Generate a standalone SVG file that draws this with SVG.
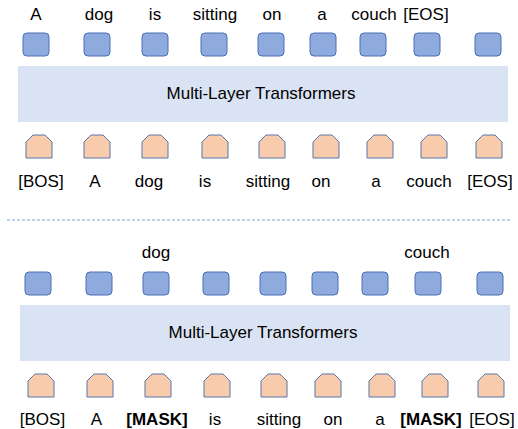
<svg xmlns="http://www.w3.org/2000/svg" xmlns:xlink="http://www.w3.org/1999/xlink" width="518" height="429" viewBox="0 0 518 429">
<style>
.lbl{font-family:"Liberation Sans",Arial,sans-serif;font-size:17px;fill:#000;text-anchor:middle}
.b{font-weight:bold}
.tf{font-family:"Liberation Sans",Arial,sans-serif;font-size:17px;fill:#000;text-anchor:middle}
.out{fill:#8FAADC;stroke:#4A70B5;stroke-width:1}
.inp{fill:#F8CBAD;stroke:#5877A8;stroke-width:1}
.box{fill:#DAE3F3}
.sep{stroke:#7F9FD3;stroke-width:1;stroke-dasharray:3 2;fill:none}
</style>
<defs>
<rect id="sq" x="0" y="0" width="26" height="23" rx="4" ry="4"/>
<path id="pent" d="M0,7 L7,0 L19,0 L26,7 L26,23 L0,23 Z"/>
</defs>
<rect width="518" height="429" fill="#fff"/>

<g id="top-section">
<g id="top-out-1"><text class="lbl" x="36" y="20">A</text><use href="#sq" class="out" x="23" y="33"/></g>
<g id="top-out-2"><text class="lbl" x="99" y="20">dog</text><use href="#sq" class="out" x="84" y="33"/></g>
<g id="top-out-3"><text class="lbl" x="155" y="20">is</text><use href="#sq" class="out" x="142" y="33"/></g>
<g id="top-out-4"><text class="lbl" x="215" y="20">sitting</text><use href="#sq" class="out" x="201" y="33"/></g>
<g id="top-out-5"><text class="lbl" x="272" y="20">on</text><use href="#sq" class="out" x="258" y="33"/></g>
<g id="top-out-6"><text class="lbl" x="322" y="20">a</text><use href="#sq" class="out" x="310" y="33"/></g>
<g id="top-out-7"><text class="lbl" x="374" y="20">couch</text><use href="#sq" class="out" x="360" y="33"/></g>
<g id="top-out-8"><text class="lbl" x="426" y="20">[EOS]</text><use href="#sq" class="out" x="414" y="33"/></g>
<g id="top-out-9"><use href="#sq" class="out" x="475" y="33"/></g>

<g id="top-transformer"><rect class="box" x="18" y="66" width="490" height="56"/><text class="tf" x="261" y="99">Multi-Layer Transformers</text></g>

<g id="top-in-1"><use href="#pent" class="inp" x="26" y="135"/><text class="lbl" x="41" y="187">[BOS]</text></g>
<g id="top-in-2"><use href="#pent" class="inp" x="84" y="135"/><text class="lbl" x="95" y="187">A</text></g>
<g id="top-in-3"><use href="#pent" class="inp" x="142" y="135"/><text class="lbl" x="149" y="187">dog</text></g>
<g id="top-in-4"><use href="#pent" class="inp" x="202" y="135"/><text class="lbl" x="205" y="187">is</text></g>
<g id="top-in-5"><use href="#pent" class="inp" x="259" y="135"/><text class="lbl" x="268" y="187">sitting</text></g>
<g id="top-in-6"><use href="#pent" class="inp" x="313" y="135"/><text class="lbl" x="321" y="187">on</text></g>
<g id="top-in-7"><use href="#pent" class="inp" x="367" y="135"/><text class="lbl" x="376" y="187">a</text></g>
<g id="top-in-8"><use href="#pent" class="inp" x="421" y="135"/><text class="lbl" x="429" y="187">couch</text></g>
<g id="top-in-9"><use href="#pent" class="inp" x="476" y="135"/><text class="lbl" x="490" y="187">[EOS]</text></g>
</g>

<g id="connectors">
<line id="separator" class="sep" x1="7" y1="220" x2="511" y2="220"/>
</g>

<g id="bottom-section">
<g id="bot-out-1"><use href="#sq" class="out" x="25" y="272" height="24"/></g>
<g id="bot-out-2"><use href="#sq" class="out" x="86" y="272"/></g>
<g id="bot-out-3"><text class="lbl" x="156" y="258">dog</text><use href="#sq" class="out" x="143" y="272"/></g>
<g id="bot-out-4"><use href="#sq" class="out" x="203" y="272"/></g>
<g id="bot-out-5"><use href="#sq" class="out" x="260" y="272"/></g>
<g id="bot-out-6"><use href="#sq" class="out" x="312" y="272"/></g>
<g id="bot-out-7"><use href="#sq" class="out" x="362" y="272"/></g>
<g id="bot-out-8"><text class="lbl" x="427" y="258">couch</text><use href="#sq" class="out" x="415" y="272"/></g>
<g id="bot-out-9"><use href="#sq" class="out" x="477" y="272"/></g>

<g id="bot-transformer"><rect class="box" x="20" y="305" width="490" height="56"/><text class="tf" x="263" y="338">Multi-Layer Transformers</text></g>

<g id="bot-in-1"><use href="#pent" class="inp" x="28" y="374"/><text class="lbl" x="42.5" y="425">[BOS]</text></g>
<g id="bot-in-2"><use href="#pent" class="inp" x="87" y="374"/><text class="lbl" x="96.5" y="425">A</text></g>
<g id="bot-in-3"><use href="#pent" class="inp" x="145" y="374"/><text class="lbl b" x="157" y="425">[MASK]</text></g>
<g id="bot-in-4"><use href="#pent" class="inp" x="204" y="374"/><text class="lbl" x="215" y="425">is</text></g>
<g id="bot-in-5"><use href="#pent" class="inp" x="261" y="374"/><text class="lbl" x="279" y="425">sitting</text></g>
<g id="bot-in-6"><use href="#pent" class="inp" x="315" y="374"/><text class="lbl" x="333" y="425">on</text></g>
<g id="bot-in-7"><use href="#pent" class="inp" x="369" y="374"/><text class="lbl" x="380" y="425">a</text></g>
<g id="bot-in-8"><use href="#pent" class="inp" x="422" y="374"/><text class="lbl b" x="431" y="425">[MASK]</text></g>
<g id="bot-in-9"><use href="#pent" class="inp" x="478" y="374"/><text class="lbl" x="492" y="425">[EOS]</text></g>
</g>
</svg>
